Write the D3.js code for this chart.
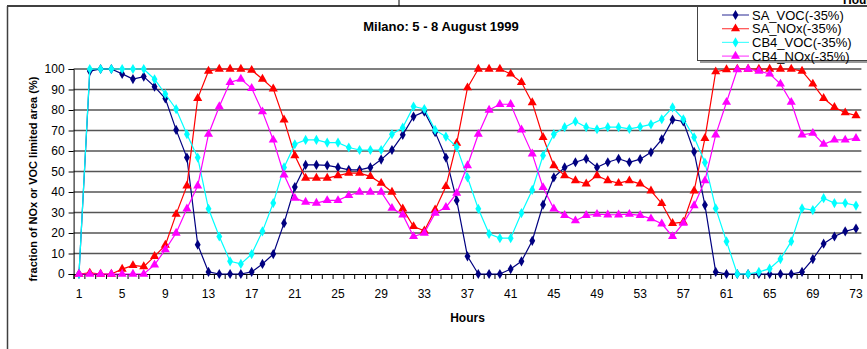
<!DOCTYPE html>
<html>
<head>
<meta charset="utf-8">
<script src="https://cdn.jsdelivr.net/npm/d3@7.9.0/dist/d3.min.js"></script>
<style>
  body { margin: 0; background: #fff; }
  svg { display: block; font-family: "Liberation Sans", Arial, sans-serif; }
</style>
</head>
<body>
<div id="viz"></div>
<script>
// hours 1..73
const hours = d3.range(1, 74);

const saVOC = [0, 99, 100, 100, 97.6, 95.1, 96.3, 91.4, 85.6, 70.3,
  56.8, 14.3, 1, 0, 0, 0, 1, 4.9, 9.7, 24.8,
  42.4, 53.2, 53.2, 53, 52, 50.8, 50.8, 52, 55.8, 60.5,
  67.9, 76.8, 79.2, 69.2, 56.8, 35.9, 8.6, 0, 0, 0,
  2.4, 6.2, 16.2, 33.8, 47.1, 52, 54.5, 56.2, 52, 54.5,
  56.2, 54.5, 56, 59.4, 65.7, 75.3, 74.4, 59.6, 33.6, 1,
  0, 0, 0, 0, 0, 0, 0, 1, 7.3, 14.8,
  18.3, 20.8, 22.2];

const saNOx = [0, 0.5, 0, 0, 2.4, 4.2, 3.6, 8.6, 14.1, 29.2,
  43, 85.7, 99, 100, 100, 100, 99.4, 95.1, 90.3, 75.2,
  57.8, 46.8, 46.8, 46.8, 48, 49.2, 49.2, 47.6, 44.3, 40,
  31.8, 23.2, 21.1, 31.3, 42.7, 63.8, 90.9, 100, 100, 100,
  97.6, 93.5, 83.6, 66.7, 52.9, 48, 45.6, 44, 48, 45.6,
  44.3, 45.5, 44, 40.6, 34.4, 24.7, 25.3, 40.6, 66.2, 98.7,
  99.7, 100, 100, 100, 100, 100, 100, 99, 92.7, 85.7,
  81.3, 78.7, 77.3];

const cb4VOC = [0, 100, 100, 100, 100, 100, 100, 95, 87.8, 80.4,
  68.2, 56.8, 31.8, 18.3, 6.2, 4.9, 9.7, 20.8, 34.6, 52,
  63.3, 65.4, 65.4, 64.1, 64.1, 61.7, 60.5, 60.5, 60.5, 68.2,
  71.4, 81.7, 80.5, 70.3, 67, 61.9, 47.1, 31.8, 19.6, 17.5,
  17.5, 29.7, 41, 57.8, 68.2, 71.6, 74.4, 71.6, 70.6, 71.6,
  71.6, 70.8, 71.8, 73, 75.5, 81.3, 75.5, 66.7, 54.4, 32,
  15.9, 0, 0, 1, 2.6, 7.3, 15.9, 32, 31.2, 37,
  34.6, 34.6, 33.4];

const cb4NOx = [0, 0, 0, 0, 0, 0, 0, 4.5, 11.9, 20,
  31.8, 43, 68.2, 81.7, 93.5, 95.1, 90.6, 79.2, 65.4, 48.4,
  37, 35.1, 34.6, 35.9, 35.9, 38.3, 40, 40, 40, 32.1,
  28.9, 18.3, 20, 29.7, 32.5, 39.4, 52.9, 68.2, 80, 82.8,
  82.8, 70.3, 58.6, 42.2, 31.8, 28.6, 26, 28.6, 29.2, 28.9,
  28.9, 29.2, 28.6, 27, 24.5, 18.3, 24.8, 33.4, 45.5, 67.9,
  83.8, 99.7, 100, 99, 97.6, 92.7, 83.8, 67.9, 68.7, 63.3,
  65.4, 65.4, 66.2];

const seriesNames = ["SA_VOC(-35%)", "SA_NOx(-35%)", "CB4_VOC(-35%)", "CB4_NOx(-35%)"];
const seriesColors = ["#000080", "#ff0000", "#00ffff", "#ff00ff"];
const seriesShapes = ["diamond", "triangle", "diamond", "triangle"];
const yTicks = [0, 10, 20, 30, 40, 50, 60, 70, 80, 90, 100];
const xTickLabels = d3.range(1, 74, 4);

const width = 867;
const height = 349;

const svg = d3.select("#viz").append("svg")
  .attr("width", width)
  .attr("height", height);

// chart area frame (cut-off look from the source document)
svg.append("line").attr("x1", 7).attr("x2", width).attr("y1", 6).attr("y2", 6)
  .attr("stroke", "#404040").attr("stroke-width", 2);
svg.append("line").attr("x1", 7.5).attr("x2", 7.5).attr("y1", 6).attr("y2", height)
  .attr("stroke", "#404040").attr("stroke-width", 1.5);
svg.append("line").attr("x1", 399).attr("x2", 399).attr("y1", 0).attr("y2", 6)
  .attr("stroke", "#000");
svg.append("text").attr("x", 843).attr("y", 4)
  .attr("font-size", 12).attr("font-weight", "bold").text("Hours");

const x = d3.scaleLinear().domain([0.5, 73.5]).range([73.6, 861.4]);
const y = d3.scaleLinear().domain([0, 100]).range([274, 69]);

// gridlines
svg.append("g").selectAll("line")
  .data(yTicks.filter(d => d > 0))
  .join("line")
  .attr("x1", x(0.5)).attr("x2", x(73.5))
  .attr("y1", d => y(d)).attr("y2", d => y(d))
  .attr("stroke", "#555").attr("stroke-width", 1.3);

// y axis
const yAxis = svg.append("g")
  .attr("transform", `translate(${x(0.5)},0)`)
  .call(d3.axisLeft(y).tickValues(yTicks).tickSize(5).tickPadding(4));
yAxis.select(".domain").attr("stroke", "#000");
yAxis.selectAll("text").attr("font-size", 12).attr("font-family", "Liberation Sans, Arial, sans-serif").attr("fill", "#000");

// x axis: ticks at category boundaries, labels every 4 hours
const xAxis = svg.append("g")
  .attr("transform", `translate(0,${y(0)})`)
  .call(d3.axisBottom(x).tickValues(d3.range(0.5, 74, 1)).tickSize(5).tickFormat(""));
xAxis.select(".domain").attr("stroke", "#000").attr("stroke-width", 1.2);
xAxis.selectAll(".tick line").attr("stroke", "#000");

svg.append("g").selectAll("text")
  .data(xTickLabels)
  .join("text")
  .attr("x", d => x(d))
  .attr("y", 298)
  .attr("text-anchor", "middle")
  .attr("font-size", 12)
  .text(d => d);

// axis titles
svg.append("text")
  .attr("x", x(37)).attr("y", 322)
  .attr("text-anchor", "middle")
  .attr("font-size", 12).attr("font-weight", "bold")
  .text("Hours");

svg.append("text")
  .attr("transform", "translate(37,179) rotate(-90)")
  .attr("text-anchor", "middle")
  .attr("font-size", 11).attr("font-weight", "bold")
  .text("fraction of NOx or VOC limited area (%)");

svg.append("text")
  .attr("x", 441).attr("y", 31)
  .attr("text-anchor", "middle")
  .attr("font-size", 13).attr("font-weight", "bold")
  .text("Milano: 5 - 8 August 1999");

// series
const allSeries = [saVOC, saNOx, cb4VOC, cb4NOx];
const line = d3.line().x((d, i) => x(hours[i])).y(d => y(d));
const symbolFor = s => s === "diamond"
  ? d3.symbol().type(d3.symbolDiamond).size(30)
  : d3.symbol().type(d3.symbolTriangle).size(36);

allSeries.forEach((vals, k) => {
  const g = svg.append("g");
  g.append("path")
    .datum(vals)
    .attr("d", line)
    .attr("fill", "none")
    .attr("stroke", seriesColors[k])
    .attr("stroke-width", 1.2);
  g.selectAll("path.mk")
    .data(vals)
    .join("path")
    .attr("class", "mk")
    .attr("transform", (d, i) => `translate(${x(hours[i])},${y(d)})`)
    .attr("d", symbolFor(seriesShapes[k]))
    .attr("fill", seriesColors[k]);
});

// legend
const lg = svg.append("g");
lg.append("rect").attr("x", 700).attr("y", 9).attr("width", 180).attr("height", 54)
  .attr("fill", "#999");
lg.append("rect").attr("x", 697.5).attr("y", 6.5).attr("width", 180).attr("height", 54)
  .attr("fill", "#fff").attr("stroke", "#444").attr("stroke-width", 1);

seriesNames.forEach((name, k) => {
  const yy = 15 + k * 13.7;
  lg.append("line").attr("x1", 722).attr("x2", 749).attr("y1", yy).attr("y2", yy)
    .attr("stroke", seriesColors[k]).attr("stroke-width", 1.2).attr("opacity", 0.7);
  lg.append("path")
    .attr("transform", `translate(735.5,${yy})`)
    .attr("d", symbolFor(seriesShapes[k]))
    .attr("fill", seriesColors[k]);
  lg.append("text").attr("x", 752).attr("y", yy + 4.5)
    .attr("font-size", 13).text(name);
});
</script>
</body>
</html>
